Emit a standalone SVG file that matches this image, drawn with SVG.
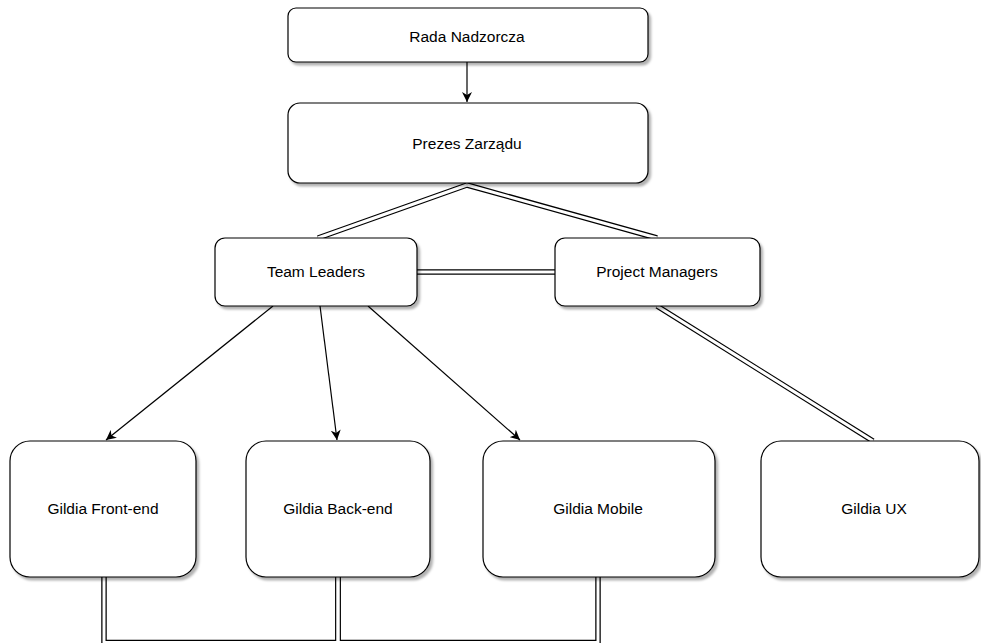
<svg xmlns="http://www.w3.org/2000/svg" width="981" height="643" viewBox="0 0 981 643">
<style>
.box{fill:#fff;stroke:#000;stroke-width:1.2;filter:url(#sh)}
.lbl{font-family:"Liberation Sans",Arial,sans-serif;font-size:15.5px;fill:#000;text-anchor:middle}
.arr{fill:none;stroke:#000;stroke-width:1.2;marker-end:url(#ah)}
.dblo{fill:none;stroke:#000;stroke-width:5.5}
.dbli{fill:none;stroke:#fff;stroke-width:3}
</style>
<defs>
<filter id="sh" x="-10%" y="-10%" width="130%" height="140%">
<feDropShadow dx="2.5" dy="3" stdDeviation="1" flood-color="#000" flood-opacity="0.3"/>
</filter>
<marker id="ah" markerWidth="11" markerHeight="10" refX="10" refY="5" orient="auto" markerUnits="userSpaceOnUse">
<path d="M0,0 L10,5 L0,10 L3,5 Z" fill="#000"/>
</marker>
</defs>
<rect width="981" height="643" fill="#fff"/>
<g id="connectors">
<path class="arr" d="M467,62 V102"/>
<path class="arr" d="M273,306 L106,440"/>
<path class="arr" d="M320,306 L337,440"/>
<path class="arr" d="M368,306 L520,440"/>
<g>
<path class="dblo" d="M467,185 L318,238"/>
<path class="dblo" d="M467,185 L657,238"/>
<path class="dblo" d="M417,272 H555"/>
<path class="dblo" d="M657,306 L873,441"/>
<path class="dblo" d="M104,577 V642.5 H338 V577"/>
<path class="dblo" d="M338,577 V642.5 H598 V577"/>
<path class="dbli" d="M467,185 L318,238"/>
<path class="dbli" d="M467,185 L657,238"/>
<path class="dbli" d="M417,272 H555"/>
<path class="dbli" d="M657,306 L873,441"/>
<path class="dbli" d="M104,577 V642.5 H338 V577"/>
<path class="dbli" d="M338,577 V642.5 H598 V577"/>
</g>
</g>
<g id="rada"><rect class="box" x="288" y="8" width="360" height="54" rx="8"/><text class="lbl" x="467" y="42">Rada Nadzorcza</text></g>
<g id="prezes"><rect class="box" x="288" y="103" width="360" height="80" rx="12"/><text class="lbl" x="467" y="149">Prezes Zarządu</text></g>
<g id="team"><rect class="box" x="215" y="238" width="202" height="68" rx="10"/><text class="lbl" x="316" y="277">Team Leaders</text></g>
<g id="pm"><rect class="box" x="555" y="238" width="205" height="68" rx="10"/><text class="lbl" x="657" y="277">Project Managers</text></g>
<g id="frontend"><rect class="box" x="10" y="441" width="186" height="136" rx="20"/><text class="lbl" x="103" y="514">Gildia Front-end</text></g>
<g id="backend"><rect class="box" x="246" y="441" width="184" height="136" rx="20"/><text class="lbl" x="338" y="514">Gildia Back-end</text></g>
<g id="mobile"><rect class="box" x="483" y="441" width="232" height="136" rx="20"/><text class="lbl" x="598" y="514">Gildia Mobile</text></g>
<g id="ux"><rect class="box" x="761" y="441" width="218" height="136" rx="20"/><text class="lbl" x="874" y="514">Gildia UX</text></g>
</svg>
